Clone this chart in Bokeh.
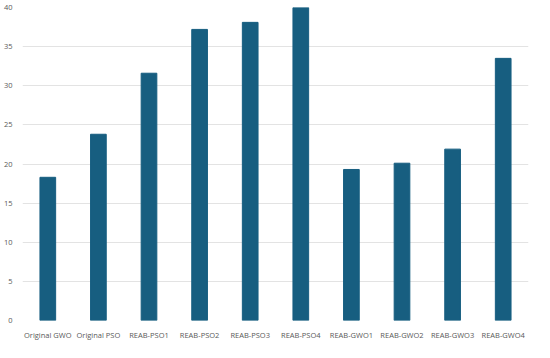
from bokeh.plotting import figure
from bokeh.models import FixedTicker, ColumnDataSource
from bokeh.embed import file_html
from bokeh.resources import INLINE

categories = ["Original GWO", "Original PSO", "REAB-PSO1", "REAB-PSO2", "REAB-PSO3",
              "REAB-PSO4", "REAB-GWO1", "REAB-GWO2", "REAB-GWO3", "REAB-GWO4"]
values = [18.3, 23.8, 31.6, 37.2, 38.1, 40.0, 19.3, 20.1, 21.9, 33.5]
y_ticks = [0, 5, 10, 15, 20, 25, 30, 35, 40]

src = ColumnDataSource(data=dict(cat=categories, val=values))

p = figure(x_range=categories, y_range=(0, 40), width=534, height=342,
           output_backend="svg", toolbar_location=None,
           min_border_left=17, min_border_right=6, min_border_top=7, min_border_bottom=16)
p.vbar(x="cat", top="val", width=0.31, source=src, color="#175e80")

p.outline_line_color = None
p.xgrid.grid_line_color = None
p.ygrid.grid_line_color = "#e3e3e3"
p.ygrid.grid_line_width = 1
p.yaxis.ticker = FixedTicker(ticks=y_ticks)

for ax in (p.xaxis, p.yaxis):
    ax.axis_line_color = None
    ax.major_tick_line_color = None
    ax.minor_tick_line_color = None
    ax.major_label_text_font = "Open Sans"
    ax.major_label_text_font_size = "7.5px"
    ax.major_label_text_color = "#595959"
    ax.major_label_standoff = 4
p.xaxis.major_label_standoff = 3
p.x_range.range_padding = 0

open("out.html", "w").write(file_html(p, INLINE))
